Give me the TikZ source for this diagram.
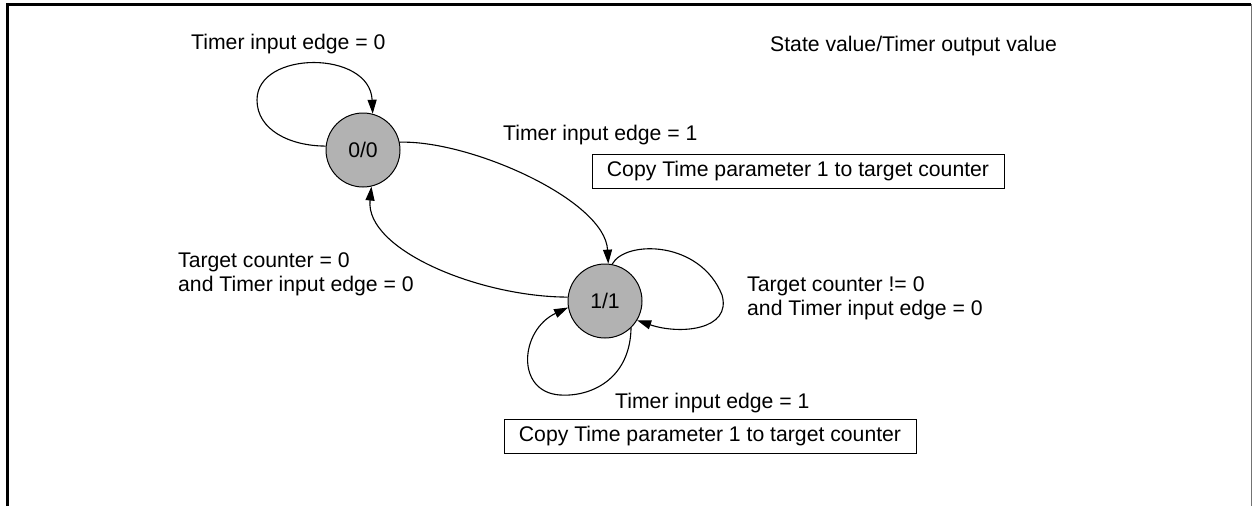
\documentclass[tikz,border=0pt]{standalone}
\usepackage{fontspec}
\setmainfont{Liberation Sans}
\usetikzlibrary{arrows.meta}
\begin{document}
\begin{tikzpicture}[x=1pt,y=-1pt,
  state/.style={circle,draw=black,line width=1pt,fill=black!30,minimum size=74pt,inner sep=0pt},
  lbl/.style={inner sep=0pt,font=\fontsize{21.2}{24}\selectfont},
  actbox/.style={draw=black,line width=1pt,minimum width=412pt,minimum height=34pt,inner sep=0pt,font=\fontsize{21.2}{24}\selectfont},
  trans/.style={line width=1.1pt,-{Triangle[length=14pt,width=9pt]}}]
\useasboundingbox (0,0) rectangle (1255,506);
% frame
\draw[line width=3pt] (7,506) -- (7,4) -- (1251,4);
\draw[black!55,line width=1pt] (1251,4) -- (1251,506);
% states
\node[state,font=\fontsize{21.2}{24}\selectfont] (n0) at (363,150) {0/0};
\node[state,font=\fontsize{21.2}{24}\selectfont] (n1) at (605,301) {1/1};
% labels
\node[lbl,anchor=base west] (l0) at (191,49) {Timer input edge = 0};
\node[lbl,anchor=base west] (lt) at (770,51) {State value/Timer output value};
\node[lbl,anchor=base west] (l1) at (503,140) {Timer input edge = 1};
\node[actbox] (b1) at (798,171) {Copy Time parameter 1 to target counter};
\node[lbl,anchor=west,align=left] (l2) at (178,274.5) {Target counter = 0\\and Timer input edge = 0};
\node[lbl,anchor=west,align=left] (l3) at (747,298.5) {Target counter != 0\\and Timer input edge = 0};
\node[lbl,anchor=base west] (l4) at (615,408) {Timer input edge = 1};
\node[actbox] (b2) at (710,436.5) {Copy Time parameter 1 to target counter};
% transitions
\draw[trans] (n0.174) .. controls (290,146) and (257,130) .. (257,100)
  .. controls (257,50) and (370,50) .. (n0.75);
\draw[trans] (n0.12) .. controls (470,140) and (605,200) .. (n1.85);
\draw[trans] (n1.174) .. controls (480,297) and (365,250) .. (n0.-77);
\draw[trans] (n1.79) .. controls (625,240) and (700,240) .. (722,295)
  .. controls (732,330) and (680,335) .. (n1.-31);
\draw[trans] (n1.-46) .. controls (630,380) and (590,397) .. (560,395)
  .. controls (515,392) and (520,330) .. (n1.190);
\end{tikzpicture}
\end{document}
